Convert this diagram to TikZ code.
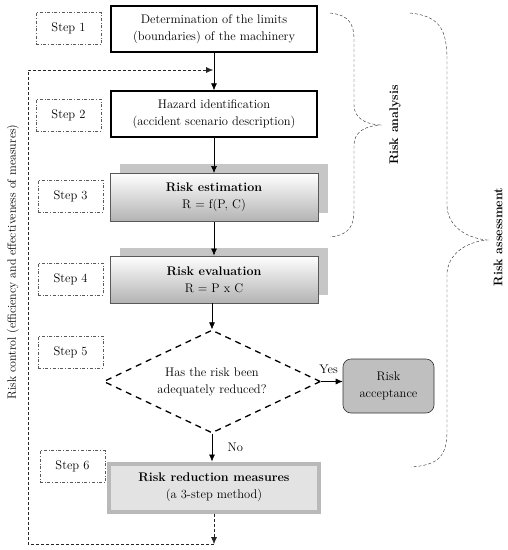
\documentclass[tikz,border=0pt]{standalone}
\usepackage{amsmath}
\usepackage{tikz}
\usetikzlibrary{calc,shapes.geometric,arrows.meta}

\begin{document}
\begin{tikzpicture}[x=1pt,y=-1pt,
    every node/.style={font=\fontsize{12.5}{17}\selectfont},
    stepbox/.style={draw=gray!70!black,dash dot,thin,minimum width=65pt,minimum height=32pt,inner sep=0pt},
    plainbox/.style={draw,line width=1.4pt,minimum width=206pt,minimum height=46pt,align=center,inner sep=0pt},
    shadebox/.style={draw=gray!70!black,line width=0.9pt,top color=white,bottom color=gray!60,minimum width=208pt,minimum height=48pt,align=center,inner sep=0pt},
    flow/.style={-{Latex[length=7pt,width=6pt]},semithick},
    back/.style={-{Latex[length=7pt,width=6pt]},densely dashed,gray!30!black,thin},
    bracket/.style={densely dashed,gray!30!black,thin}]
    \useasboundingbox (0,0) rectangle (508,550);

    \coordinate (loopbot) at (214,544);
    \coordinate (loopleft) at (28,544);
    \coordinate (looptop) at (28,70);
    \coordinate (join) at (213,70);

    \fill[gray!45] (120,164) rectangle (328,213);
    \fill[gray!45] (120,248) rectangle (328,295);

    \node[plainbox] (limits) at (214,29) {Determination of the limits\\(boundaries) of the machinery};
    \node[plainbox] (hazard) at (214,114) {Hazard identification\\(accident scenario description)};
    \node[shadebox] (estim) at (214,197.5) {\textbf{Risk estimation}\\R = f(P, C)};
    \node[shadebox,minimum height=47pt] (evalu) at (214,279.5) {\textbf{Risk evaluation}\\R = P x C};
    \node[diamond,draw,dash pattern=on 6pt off 5pt,line width=1.3pt,aspect=2.1,minimum width=217pt,minimum height=103pt,inner sep=0pt,align=center] (check) at (212,381.5) {Has the risk been\\adequately reduced?};
    \node[draw=gray!40!black,fill=gray!50,rounded corners=8pt,semithick,minimum width=91pt,minimum height=54pt,align=center,inner sep=0pt] (accept) at (388.5,386) {Risk\\acceptance};
    \node[draw=gray!55,fill=gray!22,line width=4pt,minimum width=210pt,minimum height=48pt,align=center,inner sep=0pt] (reduce) at (214,487.5) {\textbf{Risk reduction measures}\\(a 3-step method)};

    \node[stepbox] (s1) at (68.5,28.5) {Step 1};
    \node[stepbox] (s2) at (68.5,115) {Step 2};
    \node[stepbox] (s3) at (70.5,196) {Step 3};
    \node[stepbox] (s4) at (70.5,279) {Step 4};
    \node[stepbox] (s5) at (70.5,352) {Step 5};
    \node[stepbox] (s6) at (72.5,466.5) {Step 6};

    \draw[flow] (limits) -- (hazard);
    \draw[flow] (hazard) -- (estim);
    \draw[flow] (estim) -- (evalu);
    \draw[flow] (evalu.south -| check.north) -- (check.north);
    \draw[flow] (check.east) -- node[above,pos=0.35,yshift=4pt] (yes) {Yes} (check.east -| accept.west);
    \draw[flow] (check.south) -- node[right,xshift=12pt] (no) {No} (check.south |- reduce.north);

    \draw[back] (reduce) -- (loopbot);
    \draw[back] (loopbot) -- (loopleft) -- (looptop) -- (join);

    \draw[bracket] (330,13) .. controls (350,15) and (354,25) .. (354,40) -- (354,105)
        .. controls (354,118) and (365,124) .. (380,125)
        .. controls (365,126) and (354,132) .. (354,145) -- (354,210)
        .. controls (354,225) and (350,235) .. (330,237);
    \draw[bracket] (410,13) .. controls (440,16) and (447,30) .. (447,60) -- (447,205)
        .. controls (447,225) and (465,238) .. (487,240)
        .. controls (465,242) and (447,255) .. (447,275) -- (447,430)
        .. controls (447,455) and (440,465) .. (411,467);

    \node[rotate=90] (analysis) at (395,125) {\textbf{Risk analysis}};
    \node[rotate=90] (assess) at (498,237) {\textbf{Risk assessment}};
    \node[rotate=90,font=\fontsize{12}{14}\selectfont] (control) at (13,262) {Risk control (efficiency and effectiveness of measures)};
\end{tikzpicture}
\end{document}
